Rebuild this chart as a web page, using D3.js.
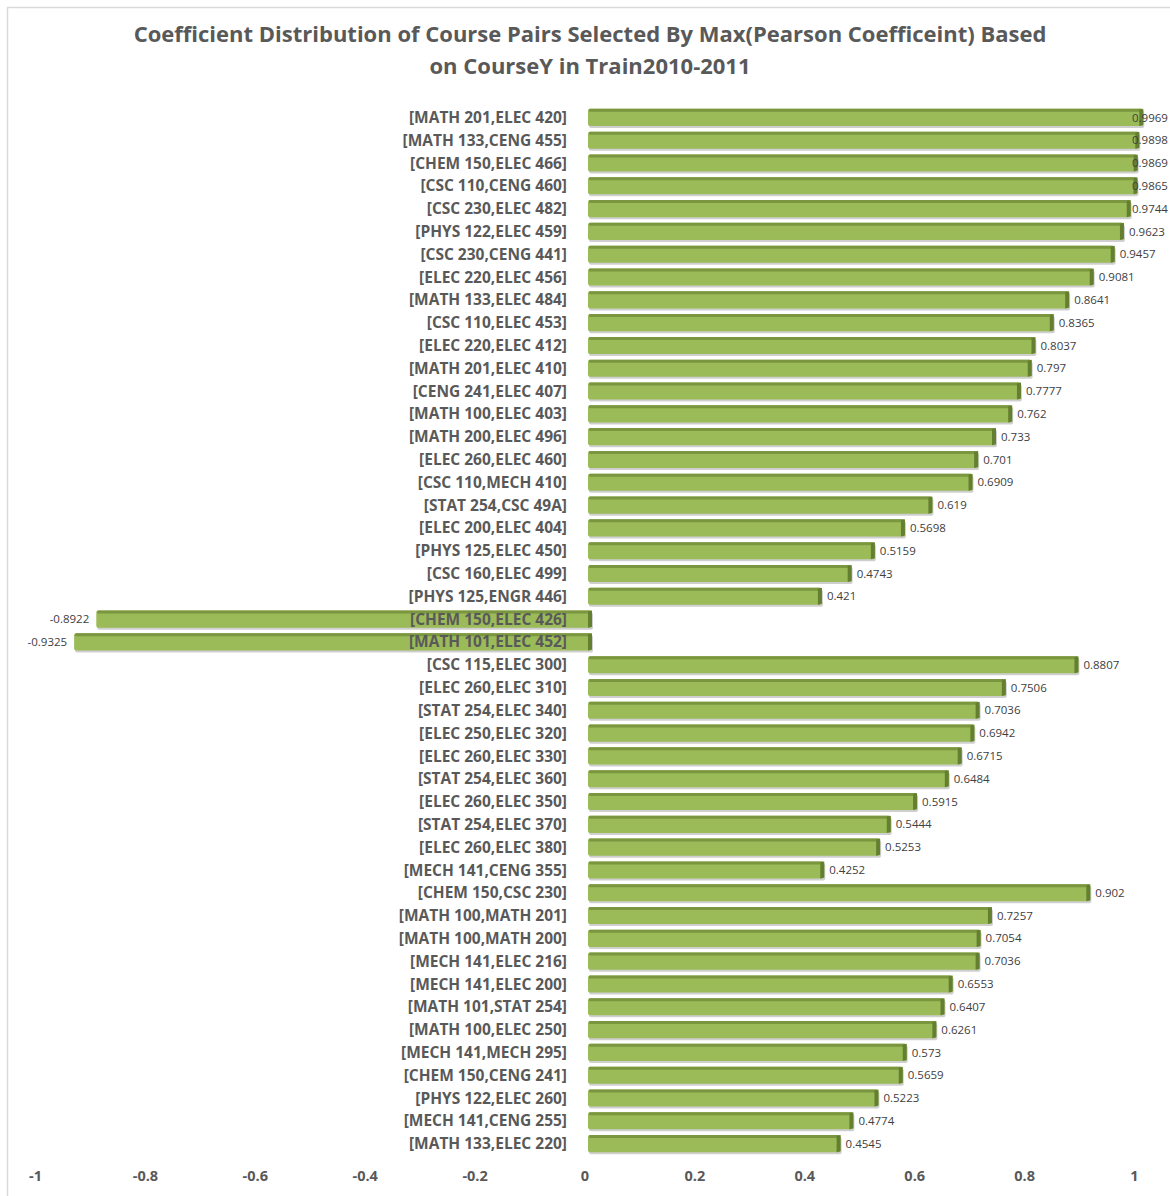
<!DOCTYPE html>
<html>
<head>
<meta charset="utf-8">
<script src="https://cdn.jsdelivr.net/npm/d3@7"></script>
<style>
  body { margin: 0; background: #fff; }
  svg text { font-family: "Open Sans", "DejaVu Sans", sans-serif; }
</style>
</head>
<body>
<div id="chart"></div>
<script>
// course pairs, top to bottom
const pairs = [
  '[MATH 201,ELEC 420]', '[MATH 133,CENG 455]', '[CHEM 150,ELEC 466]', '[CSC 110,CENG 460]',
  '[CSC 230,ELEC 482]', '[PHYS 122,ELEC 459]', '[CSC 230,CENG 441]', '[ELEC 220,ELEC 456]',
  '[MATH 133,ELEC 484]', '[CSC 110,ELEC 453]', '[ELEC 220,ELEC 412]', '[MATH 201,ELEC 410]',
  '[CENG 241,ELEC 407]', '[MATH 100,ELEC 403]', '[MATH 200,ELEC 496]', '[ELEC 260,ELEC 460]',
  '[CSC 110,MECH 410]', '[STAT 254,CSC 49A]', '[ELEC 200,ELEC 404]', '[PHYS 125,ELEC 450]',
  '[CSC 160,ELEC 499]', '[PHYS 125,ENGR 446]', '[CHEM 150,ELEC 426]', '[MATH 101,ELEC 452]',
  '[CSC 115,ELEC 300]', '[ELEC 260,ELEC 310]', '[STAT 254,ELEC 340]', '[ELEC 250,ELEC 320]',
  '[ELEC 260,ELEC 330]', '[STAT 254,ELEC 360]', '[ELEC 260,ELEC 350]', '[STAT 254,ELEC 370]',
  '[ELEC 260,ELEC 380]', '[MECH 141,CENG 355]', '[CHEM 150,CSC 230]', '[MATH 100,MATH 201]',
  '[MATH 100,MATH 200]', '[MECH 141,ELEC 216]', '[MECH 141,ELEC 200]', '[MATH 101,STAT 254]',
  '[MATH 100,ELEC 250]', '[MECH 141,MECH 295]', '[CHEM 150,CENG 241]', '[PHYS 122,ELEC 260]',
  '[MECH 141,CENG 255]', '[MATH 133,ELEC 220]'
];
const coefficients = [
  0.9969, 0.9898, 0.9869, 0.9865, 0.9744, 0.9623, 0.9457, 0.9081,
  0.8641, 0.8365, 0.8037, 0.797, 0.7777, 0.762, 0.733, 0.701,
  0.6909, 0.619, 0.5698, 0.5159, 0.4743, 0.421, -0.8922, -0.9325,
  0.8807, 0.7506, 0.7036, 0.6942, 0.6715, 0.6484, 0.5915, 0.5444,
  0.5253, 0.4252, 0.902, 0.7257, 0.7054, 0.7036, 0.6553, 0.6407,
  0.6261, 0.573, 0.5659, 0.5223, 0.4774, 0.4545
];
const xTicks = [-1, -0.8, -0.6, -0.4, -0.2, 0, 0.2, 0.4, 0.6, 0.8, 1];
const titleLines = [
  'Coefficient Distribution of Course Pairs Selected By Max(Pearson Coefficeint) Based',
  'on CourseY in Train2010-2011'
];

const width = 1170, height = 1196;
const data = pairs.map((p, i) => ({ pair: p, value: coefficients[i] }));

const svg = d3.select('#chart').append('svg')
  .attr('width', width)
  .attr('height', height);

// chart frame
svg.append('rect')
  .attr('x', 7.5).attr('y', 7.5)
  .attr('width', width).attr('height', height)
  .attr('fill', 'none')
  .attr('stroke', '#d9d9d9')
  .attr('stroke-width', 1.5);

// title
svg.append('g').selectAll('text')
  .data(titleLines)
  .join('text')
  .attr('x', 590)
  .attr('y', (d, i) => 42 + i * 32)
  .attr('text-anchor', 'middle')
  .attr('font-size', 22)
  .attr('font-weight', 700)
  .attr('fill', '#595959')
  .text(d => d);

// axis scale, and a slightly distorted one for the bars (excel 3d perspective)
const x = d3.scaleLinear().domain([-1, 1]).range([35, 1134]);
const xBar = d3.scaleLinear().domain([-1, 0, 1]).range([37, 587, 1145]);
const y = d3.scaleBand()
  .domain(d3.range(data.length))
  .range([106, 1155])
  .paddingInner(0.25)
  .paddingOuter(0.125);

// x axis (labels only)
const xAxis = svg.append('g')
  .attr('transform', 'translate(0,1170)')
  .call(d3.axisBottom(x).tickValues(xTicks).tickSize(0).tickPadding(0)
    .tickFormat(d => String(+d.toFixed(1))));
xAxis.select('.domain').remove();
xAxis.selectAll('text')
  .attr('dy', '0.75em')
  .attr('font-size', 14.5)
  .attr('font-weight', 700)
  .attr('fill', '#595959')
  .attr('font-family', '"Open Sans", sans-serif');

// bars
const bw = y.bandwidth();
const bars = svg.append('g').selectAll('g')
  .data(data)
  .join('g')
  .attr('transform', (d, i) => `translate(0,${y(i)})`);

const x0 = d => d.value >= 0 ? xBar(0) + 1 : xBar(d.value);
const x1 = d => d.value >= 0 ? xBar(d.value) : xBar(0) + 5;

// soft shadow
bars.append('rect')
  .attr('x', d => x0(d) + 1)
  .attr('y', 2)
  .attr('width', d => x1(d) - x0(d))
  .attr('height', bw)
  .attr('rx', 2)
  .attr('fill', '#cfcfcf');
// face
bars.append('rect')
  .attr('x', x0)
  .attr('y', 0)
  .attr('width', d => x1(d) - x0(d))
  .attr('height', bw)
  .attr('rx', 2)
  .attr('fill', '#9bbb59');
// top bevel
bars.append('rect')
  .attr('x', d => x0(d) + 1)
  .attr('y', 0)
  .attr('width', d => x1(d) - x0(d) - 2)
  .attr('height', 3)
  .attr('rx', 1)
  .attr('fill', '#7a963f');
// right end bevel
bars.append('path')
  .attr('d', d => {
    const r = x1(d);
    return `M${r - 4},1 L${r},0 L${r},${bw - 1} L${r - 4},${bw}Z`;
  })
  .attr('fill', '#657f31');

// category labels
svg.append('g').selectAll('text')
  .data(data)
  .join('text')
  .attr('x', 567)
  .attr('y', (d, i) => y(i) + bw / 2)
  .attr('dy', '0.36em')
  .attr('text-anchor', 'end')
  .attr('font-size', 15.5)
  .attr('font-weight', 700)
  .attr('fill', '#595959')
  .text(d => d.pair);

// value labels, kept inside the frame on the right
svg.append('g').selectAll('text')
  .data(data)
  .join('text')
  .attr('x', d => d.value >= 0 ? Math.min(x1(d) + 5, width - 38) : x0(d) - 7)
  .attr('y', (d, i) => y(i) + bw / 2)
  .attr('dy', '0.36em')
  .attr('text-anchor', d => d.value >= 0 ? 'start' : 'end')
  .attr('font-size', 11.5)
  .attr('fill', '#404040')
  .text(d => d.value);
</script>
</body>
</html>
